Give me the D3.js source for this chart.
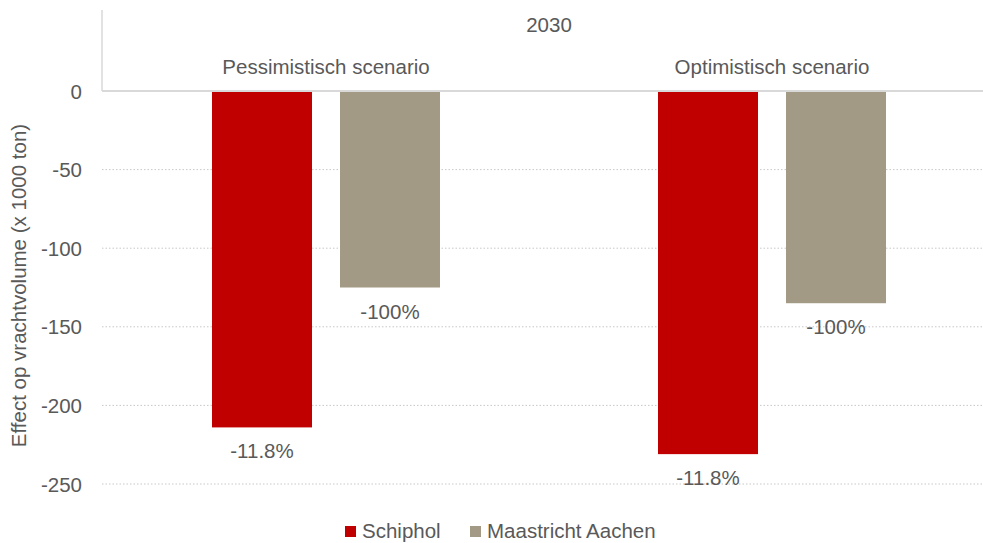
<!DOCTYPE html>
<html><head><meta charset="utf-8">
<script src="https://cdn.jsdelivr.net/npm/d3@7"></script>
<style>body{margin:0;background:#fff}svg{display:block}text{font-family:"Liberation Sans",Arial,sans-serif;fill:#595959}</style>
</head><body><svg id="c" width="983" height="543"></svg>
<script>
const categories = ["Pessimistisch scenario", "Optimistisch scenario"];
const seriesNames = ["Schiphol", "Maastricht Aachen"];
const schiphol = [-214, -231];
const maastricht = [-125, -135];
const labelsSchiphol = ["-11.8%", "-11.8%"];
const labelsMaastricht = ["-100%", "-100%"];
const yTicks = [0, -50, -100, -150, -200, -250];
const groupTitle = "2030";
const yTitle = "Effect op vrachtvolume (x 1000 ton)";
const colors = ["#C00000", "#A39A85"];

(function(){
const svg = d3.select("#c");
const W = 983, pLeft = 103, pRight = 995, pTop = 91, pBottom = 484;
const FS = 20.5;
const y = d3.scaleLinear().domain([0, -250]).range([pTop, pBottom]);
const x0 = d3.scaleBand().domain(categories).range([pLeft, pRight]).paddingInner(0).paddingOuter(0);
const barW = 100, gap = 28;
const offset = (x0.bandwidth() - (2*barW + gap)) / 2;
const barX = (ci, si) => x0(categories[ci]) + offset + si*(barW+gap);

// gridlines
svg.append("g").selectAll("line").data(yTicks.filter(d => d !== 0)).join("line")
  .attr("x1", pLeft - 1).attr("x2", W).attr("y1", d => y(d)).attr("y2", d => y(d))
  .attr("stroke", "#c8c8c8").attr("stroke-width", 1).attr("stroke-dasharray", "1.5,2");

// y axis labels
const yAxis = d3.axisLeft(y).tickValues(yTicks).tickSize(0).tickPadding(0).tickFormat(d => String(d));
const ga = svg.append("g").attr("transform", `translate(82,0)`).call(yAxis);
ga.select(".domain").remove();
ga.selectAll("text").style("font-size", FS + "px").style("font-family", '"Liberation Sans",Arial,sans-serif').attr("fill", "#595959").attr("dy", "0.35em");

// bars
const series = [schiphol, maastricht];
const labels = [labelsSchiphol, labelsMaastricht];
series.forEach((vals, si) => {
  svg.append("g").selectAll("rect").data(vals).join("rect")
    .attr("x", (d, i) => barX(i, si)).attr("width", barW)
    .attr("y", y(0)).attr("height", d => y(d) - y(0))
    .attr("fill", colors[si]);
  svg.append("g").selectAll("text").data(vals).join("text")
    .attr("x", (d, i) => barX(i, si) + barW/2).attr("y", d => y(d) + 31)
    .attr("text-anchor", "middle").style("font-size", FS + "px")
    .text((d, i) => labels[si][i]);
});

// zero line & header frame
svg.append("line").attr("x1", pLeft - 1).attr("x2", W).attr("y1", y(0)).attr("y2", y(0))
  .attr("stroke", "#d9d9d9").attr("stroke-width", 2);
svg.append("line").attr("x1", pLeft - 1).attr("x2", pLeft - 1).attr("y1", 10).attr("y2", y(0))
  .attr("stroke", "#d9d9d9").attr("stroke-width", 1.5);

// category labels
svg.append("g").selectAll("text").data(categories).join("text")
  .attr("x", d => x0(d) + x0.bandwidth()/2).attr("y", 74)
  .attr("text-anchor", "middle").style("font-size", FS + "px").text(d => d);
svg.append("text").attr("x", (pLeft + pRight)/2).attr("y", 32)
  .attr("text-anchor", "middle").style("font-size", FS + "px").text(groupTitle);

// y title
svg.append("text").attr("transform", `translate(26,${(pTop+pBottom)/2 - 2}) rotate(-90)`)
  .attr("text-anchor", "middle").style("font-size", FS + "px").text(yTitle);

// legend
const lg = svg.append("g");
const legX = [345, 470];
seriesNames.forEach((n, i) => {
  lg.append("rect").attr("x", legX[i]).attr("y", 526).attr("width", 11).attr("height", 11).attr("fill", colors[i]);
  lg.append("text").attr("x", legX[i] + 17).attr("y", 538).style("font-size", FS + "px").text(n);
});
})();
</script></body></html>
